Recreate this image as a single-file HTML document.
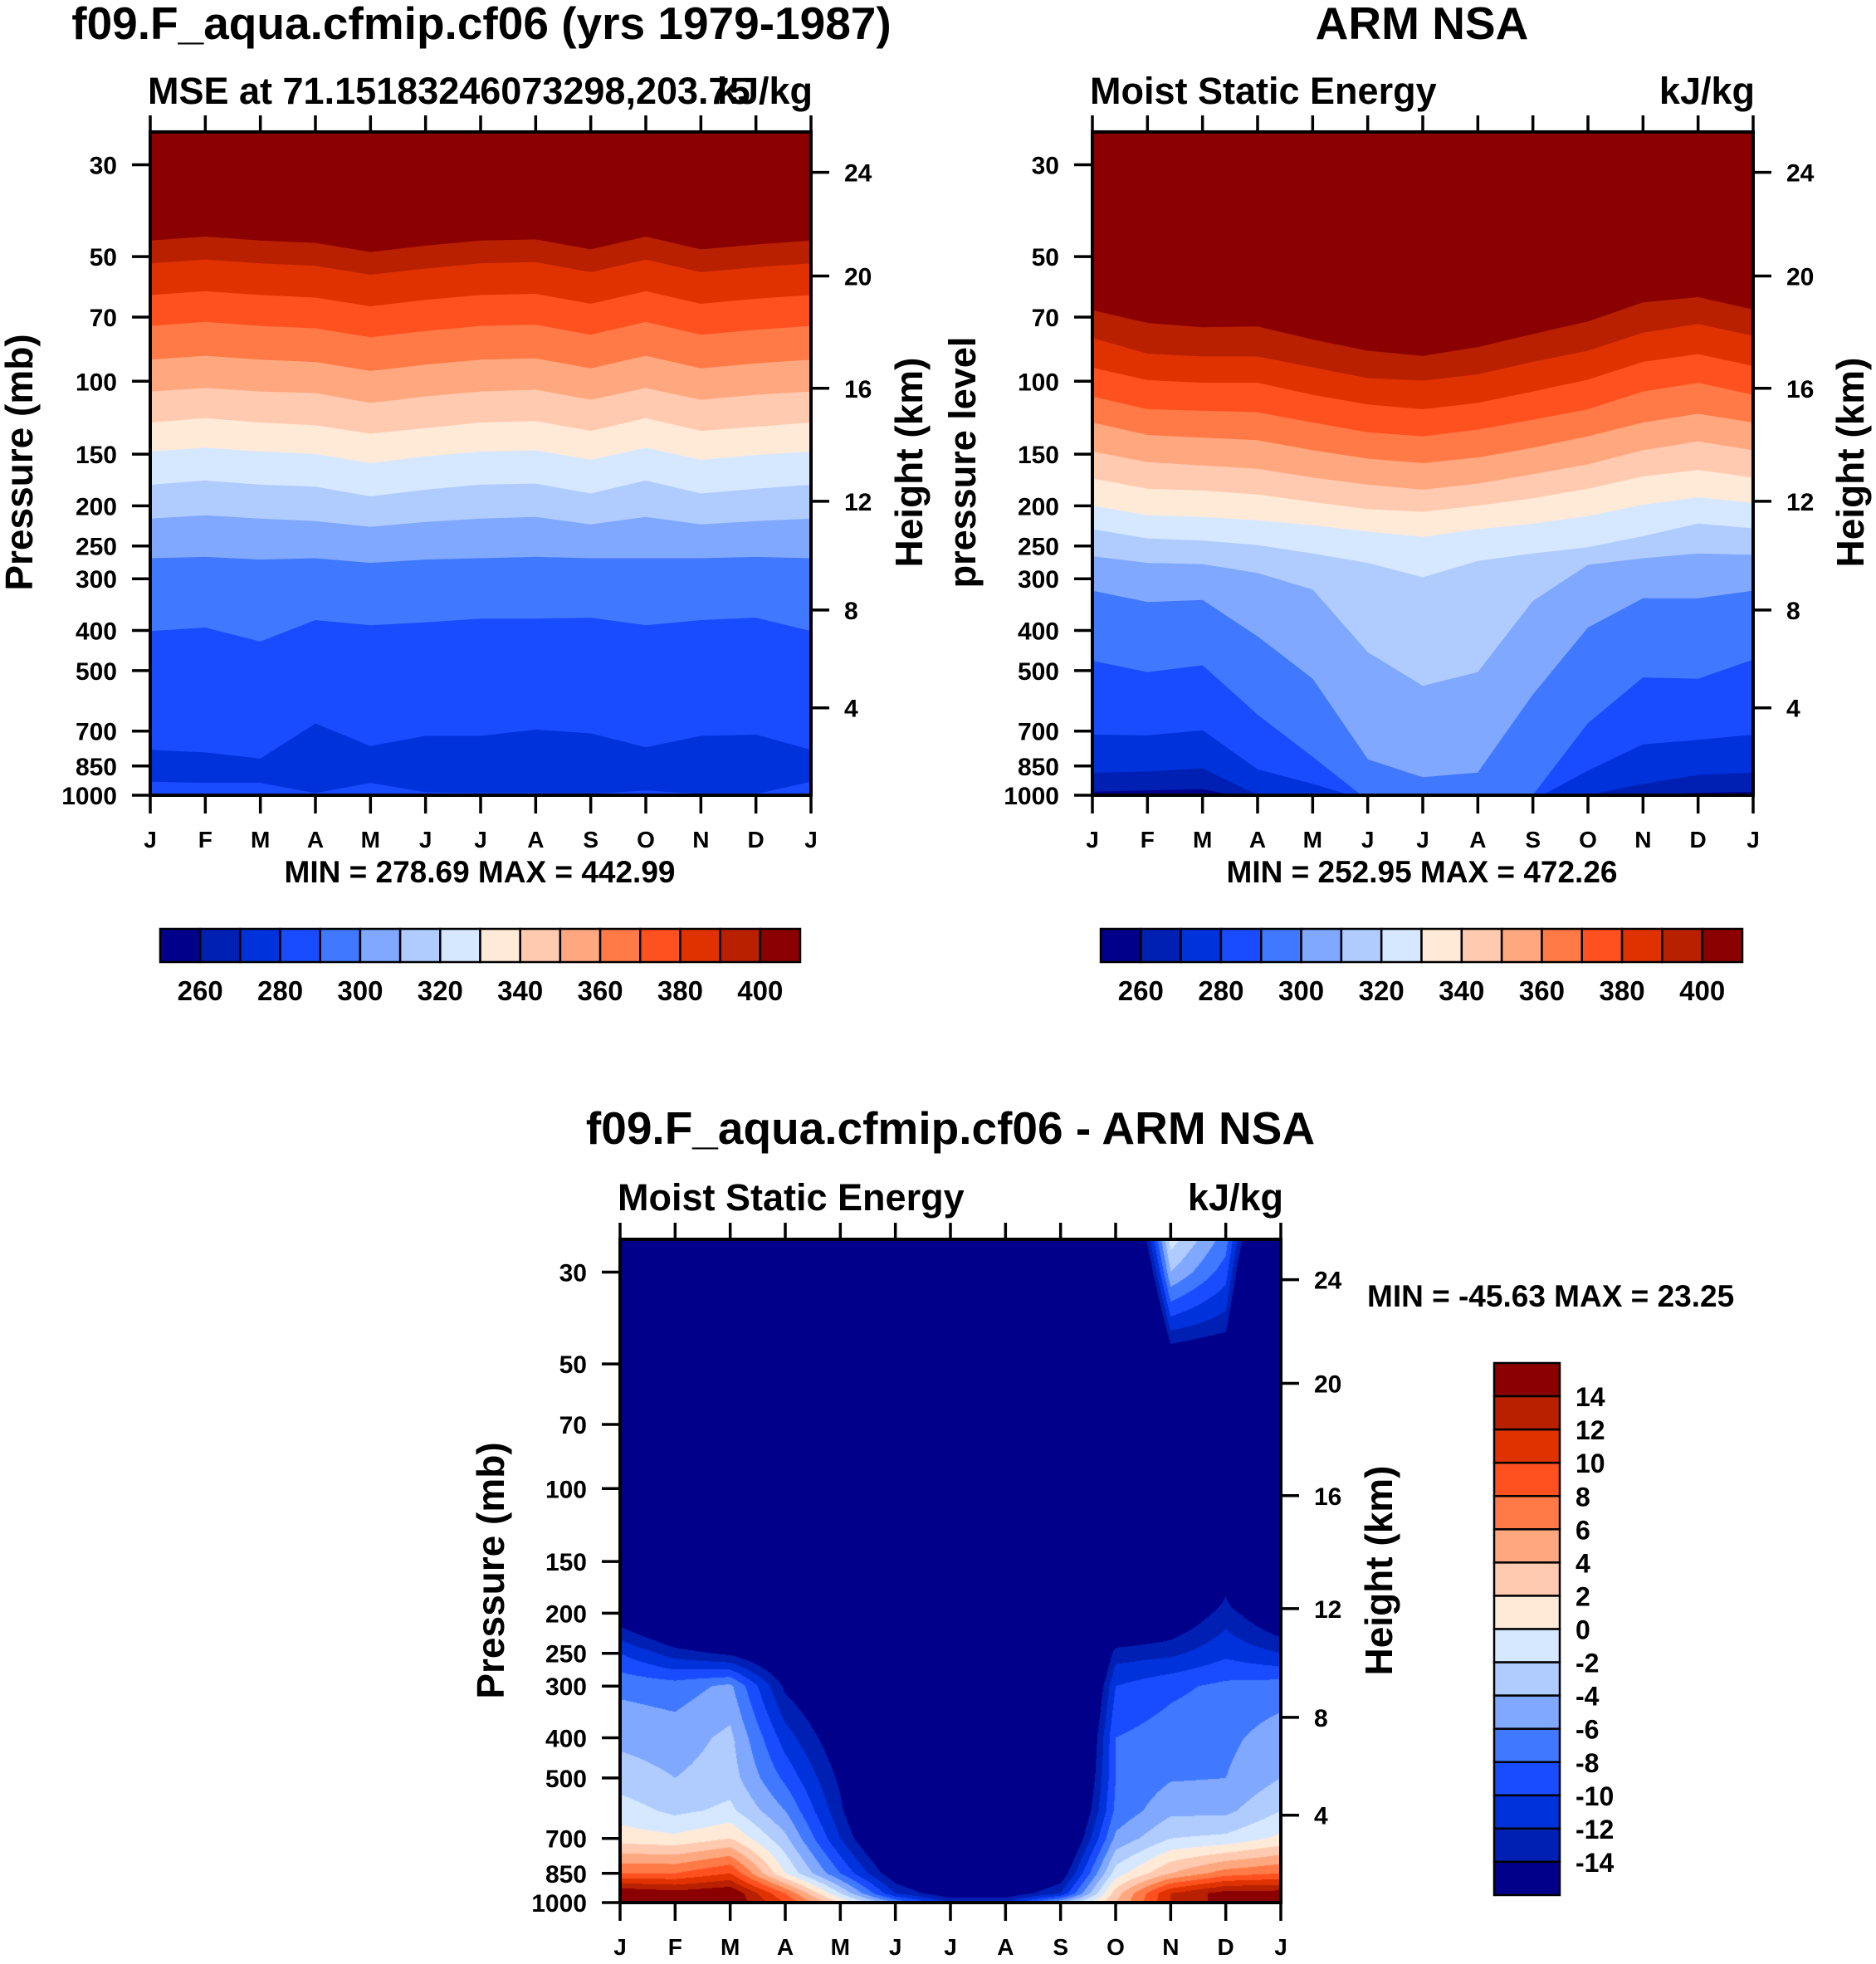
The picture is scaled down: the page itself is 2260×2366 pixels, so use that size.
<!DOCTYPE html>
<html><head><meta charset="utf-8"><style>
html,body{margin:0;padding:0;background:#fff;}
#wrap{position:relative;width:2260px;height:2366px;overflow:hidden;background:#fff;}
#diffCanvas{position:absolute;}
svg{position:absolute;left:0;top:0;}
text{font-family:"Liberation Sans",sans-serif;font-weight:bold;fill:#000;}
</style></head><body>
<div id="wrap">
<canvas id="diffCanvas"></canvas>
<svg id="svg" width="2260" height="2366" xmlns="http://www.w3.org/2000/svg"></svg>
</div>
<script>
// ---------- shared data ----------
const months = ['J','F','M','A','M','J','J','A','S','O','N','D','J'];
const pressTicks = [30,50,70,100,150,200,250,300,400,500,700,850,1000];
const heightTicks = [4,8,12,16,20,24];
const heightTickPress = [615,357,195,104,55.7,31.3];
const mseLevels = [260,270,280,290,300,310,320,330,340,350,360,370,380,390,400];
const mseTickLabels = [260,280,300,320,340,360,380,400];
const diffLevels = [-14,-12,-10,-8,-6,-4,-2,0,2,4,6,8,10,12,14];
const diffTickLabels = [14,12,10,8,6,4,2,0,-2,-4,-6,-8,-10,-12,-14];
const palette = ['#00008a','#0020b4','#0032dc','#1a4cff','#4078ff','#80a8ff','#b0ccff','#d6e8ff','#ffead8','#ffcab0','#ffa880','#ff7a46','#ff5020','#e03200','#b82000','#8b0000'];

// ---------- top-left model: contour line pressures (mb) per month ----------
const tlLevels = [400,390,380,370,360,350,340,330,320,310,300,290,280,280];
const tlDir = [-1,-1,-1,-1,-1,-1,-1,-1,-1,-1,-1,-1,-1,1];
const tlPress = [
 [45.8,44.8,45.8,46.4,48.8,47.1,45.8,45.5,48.1,44.8,48.1,46.8,45.8],
 [52,50.9,52,52.7,55.4,53.5,52,51.6,54.6,50.9,54.6,53.1,52],
 [62,60.7,62,62.9,66,63.7,62,61.6,65.1,60.7,65.1,63.3,62],
 [73.6,72,73.6,74.6,78.4,75.7,73.6,73.1,77.3,72,77.3,75.2,73.6],
 [88.8,86.9,88.8,90,94.6,91.3,88.8,88.2,93.2,86.9,93.2,90.7,88.8],
 [106,104,106,107,113,109,106,105,111,104,111,108,106],
 [126,123,126,128,134,130,126,125,132,123,132,129,126],
 [148,145,148,150,158,152,148,147,155,145,155,151,148],
 [178,174,178,180,190,183,178,177,187,174,187,182,178],
 [215,211,215,218,225,219,215,213,222,213,222,218,215],
 [268,266,270,268,275,270,268,266,268,268,268,266,268],
 [402,394,426,378,389,383,375,375,373,389,378,373,402],
 [778,789,817,672,762,720,720,695,710,767,720,715,778],
 [929,935,935,990,935,985,990,990,995,975,995,995,929]
];

// ---------- top-right obs: contour line pressures (mb) per month ----------
const trLevels = [400,390,380,370,360,350,340,330,320,310,300,290,280,270,260];
const trDir = [-1,-1,-1,-1,-1,-1,-1,-1,-1,-1,-1,-1,-1,-1,-1];
const trPress = [
 [67.5,72.4,74.2,73.8,79.4,84.5,87.0,82.8,77.0,71.8,64.6,62.7,67.2],
 [78.7,85.9,87.3,87.3,92.7,98.4,99.8,96.4,89.9,84.5,76.4,72.8,77.8],
 [92.9,99.5,101,101,108,114,117,113,106,99.3,89.9,86.1,92.0],
 [109,117,118,119,126,133,136,131,124,117,106,101,108],
 [126,135,137,139,147,154,158,153,145,136,126,120,126],
 [148,157,160,163,171,178,183,177,168,159,147,140,147],
 [172,182,184,188,196,204,207,200,192,182,170,164,171],
 [200,211,213,217,223,231,238,228,221,212,199,191,197],
 [228,240,243,249,261,275,298,272,261,252,237,221,227],
 [265,275,277,291,319,452,545,505,340,278,268,261,263],
 [321,342,338,414,524,820,906,883,572,394,335,335,321],
 [474,505,486,640,809,1030,1030,1030,1000,671,520,524,471],
 [715,718,698,867,940,1030,1030,1030,1030,873,755,736,715],
 [883,878,862,1000,1030,1030,1030,1030,1030,1000,940,894,883],
 [982,975,968,1030,1030,1030,1030,1030,1030,1030,1000,988,982]
];

// ---------- bottom difference field ----------
const diffPress = [25,30,40,50,100,150,200,250,300,400,500,600,700,850,950,1000];
const diffJan = [-46,-46,-46,-46,-46,-40,-16,-10,-6.5,-4.5,-3,-1,1,8,16,16];
const diffFeb = [-46,-46,-46,-46,-46,-40,-20,-13,-7,-5,-4,-2.5,0.5,8,15,15];
const diffMar = [-46,-46,-46,-46,-46,-40,-22,-14.5,-5.5,-3.5,-3,-1.5,2,10,16,16];
const diffApr = [-46,-46,-46,-46,-46,-40,-30,-18,-14.5,-11,-8.5,-6,-3.5,0,8,10];
const diffMay = [-46,-46,-46,-46,-46,-40,-30,-25,-18,-16,-14.5,-13.5,-12,-8,-2,2];
const diffJun = [-46,-46,-46,-46,-46,-40,-32,-30,-28,-26,-24,-22,-20,-16,-12,-6];
const diffJul = [-46,-46,-46,-46,-46,-40,-32,-30,-30,-28,-27,-25,-23,-20,-16,-12];
const diffAug = [-46,-46,-46,-46,-46,-40,-32,-30,-30,-28,-27,-25,-23,-20,-16,-12];
const diffSep = [-46,-46,-46,-46,-46,-40,-32,-30,-28,-26,-24,-22,-20,-16,-12,-4];
const diffOct = [-30,-35,-40,-45,-46,-40,-20,-13,-10,-8,-8,-7.5,-5.5,-1,3,4];
const diffNov = [-1,-4,-11,-17,-40,-30,-17,-12.5,-8.5,-7,-6.2,-4.5,-2,4,12,12];
const diffDec = [-7,-9,-13,-18,-40,-16,-13,-10.5,-7.5,-6.5,-6,-4.5,-1.5,7,15,15];
const diffJan2 = [-30,-35,-40,-45,-46,-40,-17,-12,-7,-5,-4,-2,0.5,8,15,15];
const diffRows = [diffJan,diffFeb,diffMar,diffApr,diffMay,diffJun,diffJul,diffAug,diffSep,diffOct,diffNov,diffDec,diffJan2];

// ---------- helpers ----------
const NS = 'http://www.w3.org/2000/svg';
const svg = document.getElementById('svg');
const P_TOP = 25, P_BOT = 1000;
function mk(tag, attrs, parent){const e=document.createElementNS(NS,tag);for(const k in attrs)e.setAttribute(k,attrs[k]);(parent||svg).appendChild(e);return e;}
function txt(s, x, y, size, anchor, parent, extra){const t=mk('text',Object.assign({x:x,y:y,'font-size':size,'text-anchor':anchor||'start'},extra||{}),parent);t.textContent=s;return t;}
function classify(v, levels){let k=0;for(const L of levels){if(v>=L)k++;}return k;}
function makePanel(x0,y0,x1,y1){
  const lt=Math.log10(P_TOP), lb=Math.log10(P_BOT);
  return {x0,y0,x1,y1,
    xs:i=>x0+(x1-x0)*i/12,
    ys:p=>y0+(y1-y0)*(Math.log10(p)-lt)/(lb-lt)};
}

function drawAxes(g, pn){
  pressTicks.forEach(p=>{
    const y=pn.ys(p);
    const tk=mk('line',{x1:pn.x0-22,y1:y,x2:pn.x0,y2:y,stroke:'#000','stroke-width':3.5},g);
    
    
    const l=txt(String(p),pn.x0-40,y+11,30,'end',g);
    
    
  });
  heightTicks.forEach((h,i)=>{
    const y=pn.ys(heightTickPress[i]);
    const tk=mk('line',{x1:pn.x1,y1:y,x2:pn.x1+22,y2:y,stroke:'#000','stroke-width':3.5},g);
    
    
    const l=txt(String(h),pn.x1+40,y+11,30,'start',g);
    
    
  });
  months.forEach((m,i)=>{
    const x=pn.xs(i);
    const t1=mk('line',{x1:x,y1:pn.y0-20,x2:x,y2:pn.y0,stroke:'#000','stroke-width':3.5},g);
    
    
    const t2=mk('line',{x1:x,y1:pn.y1,x2:x,y2:pn.y1+22,stroke:'#000','stroke-width':3.5},g);
    
    
    const l=txt(m,x,pn.y1+63,28,'middle',g);
    
    
  });
  const fr=mk('rect',{x:pn.x0,y:pn.y0,width:pn.x1-pn.x0,height:pn.y1-pn.y0,fill:'none',stroke:'#000','stroke-width':4},g);
  
  
}

function drawContours(g, pn, id, levels, dirs, press, topCls){
  const cp=mk('clipPath',{id:id},g);
  mk('rect',{x:pn.x0,y:pn.y0,width:pn.x1-pn.x0,height:pn.y1-pn.y0},cp);
  const cg=mk('g',{'clip-path':'url(#'+id+')'},g);
  
  
  const bg=mk('rect',{x:pn.x0,y:pn.y0,width:pn.x1-pn.x0,height:pn.y1-pn.y0,fill:palette[topCls]},cg);
  
  
  levels.forEach((lev,k)=>{
    const below=classify(lev+dirs[k]*5, mseLevels);
    let pts=press[k].map((p,i)=>pn.xs(i).toFixed(1)+','+pn.ys(p).toFixed(1));
    pts.push(pn.x1+','+(pn.y1+60), pn.x0+','+(pn.y1+60));
    const pg=mk('polygon',{points:pts.join(' '),fill:palette[below],stroke:palette[below],'stroke-width':0.6},cg);
    
    
  });
}

function hColorbar(g, x0, y0, x1, y1){
  const n=palette.length, w=(x1-x0)/n;
  palette.forEach((c,i)=>{
    const r=mk('rect',{x:x0+i*w,y:y0,width:w,height:y1-y0,fill:c,stroke:'#000','stroke-width':2.5},g);
    
    
  });
  mseTickLabels.forEach(v=>{
    const i=mseLevels.indexOf(v)+1;
    const l=txt(String(v),x0+i*w,y1+46,33,'middle',g);
    
    
  });
}

// ---------- Top-left panel ----------
const gTL=mk('g',{});  
const pTL=makePanel(181,159,977,958);
drawContours(gTL,pTL,'clipTL',tlLevels,tlDir,tlPress,15);
drawAxes(gTL,pTL);
let t;
t=txt('f09.F_aqua.cfmip.cf06 (yrs 1979-1987)',580,47,55,'middle',gTL);  
t=txt('MSE at 71.15183246073298,203.75',178,125,45,'start',gTL);  
t=txt('kJ/kg',979,125,45,'end',gTL);  
t=txt('Pressure (mb)',0,0,46,'middle',gTL,{transform:'translate(39,557) rotate(-90)'});  
t=txt('Height (km)',0,0,46,'middle',gTL,{transform:'translate(1111,557) rotate(-90)'});  
t=txt('MIN = 278.69 MAX = 442.99',578,1063,37,'middle',gTL);  
hColorbar(gTL,193,1119,964,1159);

// ---------- Top-right panel ----------
const gTR=mk('g',{});  
const pTR=makePanel(1316,159,2112,958);
drawContours(gTR,pTR,'clipTR',trLevels,trDir,trPress,15);
drawAxes(gTR,pTR);
t=txt('ARM NSA',1713,47,55,'middle',gTR);  
t=txt('Moist Static Energy',1313,125,45,'start',gTR);  
t=txt('kJ/kg',2114,125,45,'end',gTR);  
t=txt('pressure level',0,0,45,'middle',gTR,{transform:'translate(1175,557) rotate(-90)'});  
t=txt('Height (km)',0,0,46,'middle',gTR,{transform:'translate(2245,557) rotate(-90)'});  
t=txt('MIN = 252.95 MAX = 472.26',1713,1063,37,'middle',gTR);  
hColorbar(gTR,1326,1119,2099,1159);

// ---------- Bottom difference panel ----------
const gB=mk('g',{});  
const pB=makePanel(747,1493,1543,2292);
(function(){
  const cv=document.getElementById('diffCanvas');
  const W=Math.round(pB.x1-pB.x0), H=Math.round(pB.y1-pB.y0);
  cv.width=W; cv.height=H; cv.style.left=pB.x0+'px'; cv.style.top=pB.y0+'px';
  const ctx=cv.getContext('2d'); const img=ctx.createImageData(W,H);
  const lt=Math.log10(P_TOP), lb=Math.log10(P_BOT);
  const lp=diffPress.map(p=>Math.log10(p));
  const rgb=palette.map(c=>[parseInt(c.substr(1,2),16),parseInt(c.substr(3,2),16),parseInt(c.substr(5,2),16)]);
  for(let py=0;py<H;py++){
    const l=lt+(lb-lt)*(py+0.5)/H;
    let j=0; while(j<lp.length-2 && l>lp[j+1]) j++;
    const fy=Math.min(1,Math.max(0,(l-lp[j])/(lp[j+1]-lp[j])));
    for(let px=0;px<W;px++){
      const m=12*(px+0.5)/W; const i=Math.min(11,Math.floor(m)); const fx=m-i;
      const a=diffRows[i][j]*(1-fy)+diffRows[i][j+1]*fy;
      const b=diffRows[i+1][j]*(1-fy)+diffRows[i+1][j+1]*fy;
      const v=a*(1-fx)+b*fx;
      const c=rgb[classify(v,diffLevels)];
      const o=(py*W+px)*4; img.data[o]=c[0]; img.data[o+1]=c[1]; img.data[o+2]=c[2]; img.data[o+3]=255;
    }
  }
  ctx.putImageData(img,0,0);
})();
drawAxes(gB,pB);
t=txt('f09.F_aqua.cfmip.cf06 - ARM NSA',1145,1378,55,'middle',gB);  
t=txt('Moist Static Energy',744,1458,45,'start',gB);  
t=txt('kJ/kg',1546,1458,45,'end',gB);  
t=txt('Pressure (mb)',0,0,46,'middle',gB,{transform:'translate(607,1892) rotate(-90)'});  
t=txt('Height (km)',0,0,46,'middle',gB,{transform:'translate(1677,1892) rotate(-90)'});  
t=txt('MIN = -45.63 MAX =  23.25',1647,1574,37,'start',gB,{'xml:space':'preserve'});  
(function(){
  const x0=1800,x1=1879,y0=1642,y1=2283,n=palette.length,h=(y1-y0)/n;
  for(let i=0;i<n;i++){
    const r=mk('rect',{x:x0,y:y0+i*h,width:x1-x0,height:h,fill:palette[n-1-i],stroke:'#000','stroke-width':2.5},gB);
    
    
  }
  diffTickLabels.forEach(v=>{
    const i=diffLevels.length-diffLevels.indexOf(v);
    const l=txt(String(v),1898,y0+i*h+12,32,'start',gB);
    
    
  });
})();
</script>
</body></html>
